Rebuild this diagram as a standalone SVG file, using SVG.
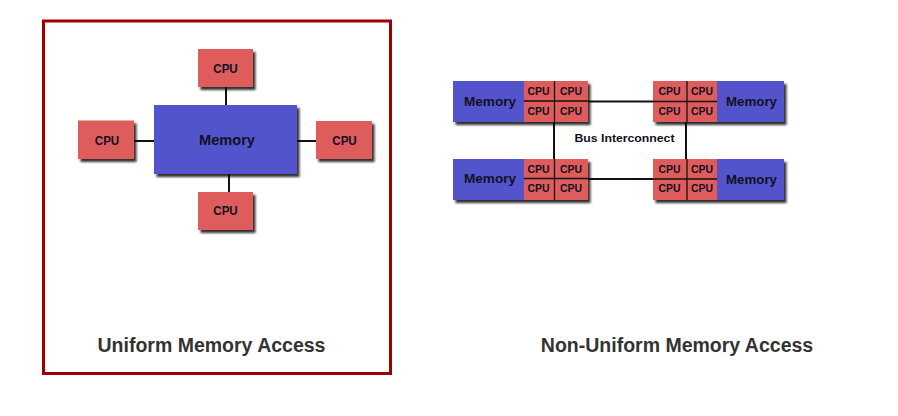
<svg xmlns="http://www.w3.org/2000/svg" width="898" height="416" viewBox="0 0 898 416">
<style>
.cpu{fill:#DE5B5B;}
.mem{fill:#5252CC;}
.t{font-family:"Liberation Sans",Arial,sans-serif;font-weight:bold;fill:#111122;text-anchor:middle;}
.c12{font-size:12px;}
.c10{font-size:10.5px;}
.m14{font-size:14.5px;}
.m12{font-size:13px;}
.title{font-family:"Liberation Sans",Arial,sans-serif;font-weight:bold;font-size:19.5px;fill:#333;text-anchor:middle;}
.ln{stroke:#111;stroke-width:2;fill:none;}
.dv{stroke:#111;stroke-width:1.3;fill:none;}
</style>
<defs>
<filter id="sh" x="-10%" y="-10%" width="130%" height="140%">
<feDropShadow dx="2.5" dy="3" stdDeviation="1.2" flood-color="#111" flood-opacity="0.85"/>
</filter>
</defs>
<rect x="0" y="0" width="898" height="416" fill="#fff"/>
<rect id="frame" x="43.5" y="21" width="347" height="352.5" fill="none" stroke="#9E0000" stroke-width="3"/>

<g id="connectors">
<line class="ln" x1="226" y1="87" x2="226" y2="105"/>
<line class="ln" x1="229" y1="174" x2="229" y2="192"/>
<line class="ln" x1="134" y1="141" x2="154" y2="141"/>
<line class="ln" x1="297" y1="141" x2="316" y2="141"/>
<line class="ln" x1="588" y1="101.5" x2="653" y2="101.5"/>
<line class="ln" x1="588" y1="179" x2="653" y2="179"/>
<line class="ln" x1="554" y1="122" x2="554" y2="159"/>
<line class="ln" x1="686" y1="122" x2="686" y2="159"/>
</g>

<g id="uma-memory">
<rect class="mem" x="154" y="105" width="143" height="69" filter="url(#sh)"/>
<text class="t m14" x="227" y="144.5" textLength="56" lengthAdjust="spacingAndGlyphs">Memory</text>
</g>
<g id="uma-cpu-top">
<rect class="cpu" x="198" y="49" width="55" height="38" filter="url(#sh)"/>
<text class="t c12" x="225.5" y="73" textLength="24.5" lengthAdjust="spacingAndGlyphs">CPU</text>
</g>
<g id="uma-cpu-left">
<rect class="cpu" x="78" y="120.5" width="56" height="38.5" filter="url(#sh)"/>
<text class="t c12" x="107" y="144.5" textLength="24.5" lengthAdjust="spacingAndGlyphs">CPU</text>
</g>
<g id="uma-cpu-right">
<rect class="cpu" x="316" y="121" width="56" height="38" filter="url(#sh)"/>
<text class="t c12" x="344.5" y="144.5" textLength="24.5" lengthAdjust="spacingAndGlyphs">CPU</text>
</g>
<g id="uma-cpu-bottom">
<rect class="cpu" x="198" y="192" width="55" height="38" filter="url(#sh)"/>
<text class="t c12" x="225.5" y="215" textLength="24.5" lengthAdjust="spacingAndGlyphs">CPU</text>
</g>

<g id="numa-tl">
<g filter="url(#sh)">
<rect class="mem" x="453" y="81" width="71" height="41"/>
<rect class="cpu" x="524" y="81" width="64" height="41"/>
</g>
<line class="dv" x1="554.5" y1="81" x2="554.5" y2="122"/>
<line class="dv" x1="524" y1="101" x2="588" y2="101"/>
<text class="t m12" x="490" y="105.5" textLength="52" lengthAdjust="spacingAndGlyphs">Memory</text>
<text class="t c10" x="538.5" y="95" textLength="22" lengthAdjust="spacingAndGlyphs">CPU</text>
<text class="t c10" x="571" y="95" textLength="22" lengthAdjust="spacingAndGlyphs">CPU</text>
<text class="t c10" x="538.5" y="114.5" textLength="22" lengthAdjust="spacingAndGlyphs">CPU</text>
<text class="t c10" x="571" y="114.5" textLength="22" lengthAdjust="spacingAndGlyphs">CPU</text>
</g>

<g id="numa-tr">
<g filter="url(#sh)">
<rect class="cpu" x="653" y="81" width="64" height="41"/>
<rect class="mem" x="717" y="81" width="67" height="41"/>
</g>
<line class="dv" x1="687" y1="81" x2="687" y2="122"/>
<line class="dv" x1="653" y1="101.5" x2="717" y2="101.5"/>
<text class="t m12" x="751.5" y="106" textLength="51" lengthAdjust="spacingAndGlyphs">Memory</text>
<text class="t c10" x="669.5" y="95" textLength="22" lengthAdjust="spacingAndGlyphs">CPU</text>
<text class="t c10" x="702" y="95" textLength="22" lengthAdjust="spacingAndGlyphs">CPU</text>
<text class="t c10" x="669.5" y="114.5" textLength="22" lengthAdjust="spacingAndGlyphs">CPU</text>
<text class="t c10" x="702" y="114.5" textLength="22" lengthAdjust="spacingAndGlyphs">CPU</text>
</g>

<g id="numa-bl">
<g filter="url(#sh)">
<rect class="mem" x="453" y="159" width="71" height="41"/>
<rect class="cpu" x="524" y="159" width="64" height="41"/>
</g>
<line class="dv" x1="554.5" y1="159" x2="554.5" y2="200"/>
<line class="dv" x1="524" y1="178.5" x2="588" y2="178.5"/>
<text class="t m12" x="490" y="183" textLength="52" lengthAdjust="spacingAndGlyphs">Memory</text>
<text class="t c10" x="538.5" y="173" textLength="22" lengthAdjust="spacingAndGlyphs">CPU</text>
<text class="t c10" x="571" y="173" textLength="22" lengthAdjust="spacingAndGlyphs">CPU</text>
<text class="t c10" x="538.5" y="191.5" textLength="22" lengthAdjust="spacingAndGlyphs">CPU</text>
<text class="t c10" x="571" y="191.5" textLength="22" lengthAdjust="spacingAndGlyphs">CPU</text>
</g>

<g id="numa-br">
<g filter="url(#sh)">
<rect class="cpu" x="653" y="159" width="64" height="41"/>
<rect class="mem" x="717" y="159" width="67" height="41"/>
</g>
<line class="dv" x1="687" y1="159" x2="687" y2="200"/>
<line class="dv" x1="653" y1="179" x2="717" y2="179"/>
<text class="t m12" x="751.5" y="184" textLength="51" lengthAdjust="spacingAndGlyphs">Memory</text>
<text class="t c10" x="669.5" y="173" textLength="22" lengthAdjust="spacingAndGlyphs">CPU</text>
<text class="t c10" x="702" y="173" textLength="22" lengthAdjust="spacingAndGlyphs">CPU</text>
<text class="t c10" x="669.5" y="191.5" textLength="22" lengthAdjust="spacingAndGlyphs">CPU</text>
<text class="t c10" x="702" y="191.5" textLength="22" lengthAdjust="spacingAndGlyphs">CPU</text>
</g>

<g id="bus-label">
<text class="t" style="font-size:11.5px" x="624.5" y="142" textLength="100" lengthAdjust="spacingAndGlyphs">Bus Interconnect</text>
</g>

<text class="title" x="211.5" y="352">Uniform Memory Access</text>
<text class="title" x="677" y="352">Non-Uniform Memory Access</text>
</svg>
